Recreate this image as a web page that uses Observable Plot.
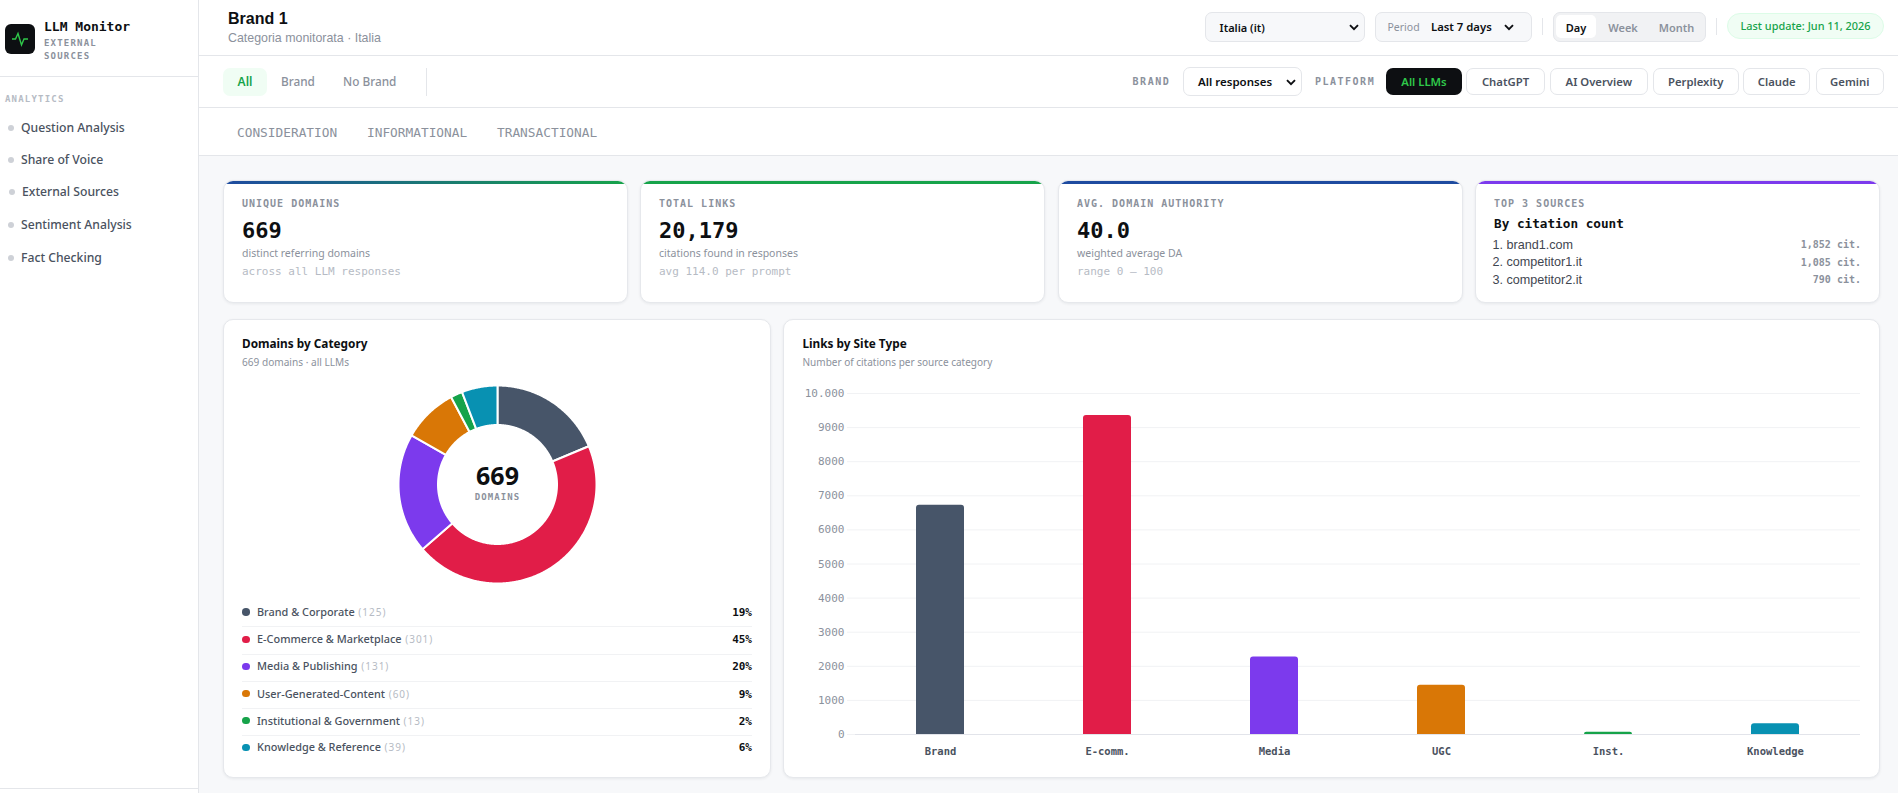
<!DOCTYPE html>
<html><head><meta charset="utf-8">
<script src="https://cdn.jsdelivr.net/npm/d3@7"></script>
<script src="https://cdn.jsdelivr.net/npm/@observablehq/plot@0.6"></script>
<style>
html,body{margin:0;padding:0;width:1898px;height:793px;overflow:hidden;background:#f7f8fa;font-family:"Noto Sans",sans-serif;color:#0d0f12}
#app{position:relative;width:1898px;height:793px;overflow:hidden}
.box{position:absolute;box-sizing:border-box}
.t{position:absolute;white-space:nowrap;line-height:1;transform:translateY(-50%)}
.m{font-family:"DejaVu Sans Mono",monospace}
.l{font-family:"Liberation Sans",sans-serif}
.card{background:#fff;border:1px solid #e6e8ec;border-radius:10px;box-shadow:0 1px 3px rgba(16,24,40,.07);overflow:hidden}
svg{position:absolute;background:transparent;overflow:visible}
</style></head><body><div id="app"></div>
<script>
// ---- data ----
const categories=["Brand & Corporate","E-Commerce & Marketplace","Media & Publishing","User-Generated-Content","Institutional & Government","Knowledge & Reference"];
const domainCounts=[125,301,131,60,13,39];
const domainShares=["19%","45%","20%","9%","2%","6%"];
const siteLabels=["Brand","E-comm.","Media","UGC","Inst.","Knowledge"];
const linkValues=[6725,9355,2275,1445,65,314];
const yTicks=[0,1000,2000,3000,4000,5000,6000,7000,8000,9000,10000];
const yTickLabels=["0","1000","2000","3000","4000","5000","6000","7000","8000","9000","10.000"];
const palette=["#475569","#e11d48","#7c3aed","#d97706","#16a34a","#0891b2"];
const navItems=["Question Analysis","Share of Voice","External Sources","Sentiment Analysis","Fact Checking"];
const kpiLabels=["UNIQUE DOMAINS","TOTAL LINKS","AVG. DOMAIN AUTHORITY"];
const kpiValues=["669","20,179","40.0"];
const kpiSubs=["distinct referring domains","citations found in responses","weighted average DA"];
const kpiNotes=["across all LLM responses","avg 114.0 per prompt","range 0 – 100"];
const topSources=["1. brand1.com","2. competitor1.it","3. competitor2.it"];
const topCitations=["1,852 cit.","1,085 cit.","790 cit."];
const platforms=["All LLMs","ChatGPT","AI Overview","Perplexity","Claude","Gemini"];

// ---- page helpers ----
const app=document.getElementById("app");
function box(x,y,w,h,css="",cls=""){const d=document.createElement("div");d.className="box "+cls;d.style.cssText=`left:${x}px;top:${y}px;width:${w}px;height:${h}px;${css}`;app.appendChild(d);return d}
function T(s,x,y,css="",cls=""){const d=document.createElement("div");d.className="t "+cls;d.textContent=s;d.style.cssText=`left:${x}px;top:${y}px;${css}`;app.appendChild(d);return d}
function TR(s,x,y,css="",cls=""){const d=T(s,0,y,css,cls);d.style.left="auto";d.style.right=(1898-x)+"px";return d}
function TC(s,x,y,css="",cls=""){const d=T(s,x,y,css,cls);d.style.transform="translate(-50%,-50%)";return d}
const chev=(x,y)=>{const s=document.createElementNS("http://www.w3.org/2000/svg","svg");s.setAttribute("width",10);s.setAttribute("height",7);s.setAttribute("viewBox","0 0 10 7");s.style.cssText=`left:${x}px;top:${y}px`;s.innerHTML='<path d="M1 1.2 5 5.2 9 1.2" fill="none" stroke="#0d0f12" stroke-width="1.9"/>';app.appendChild(s)};
const G="#8b919c",G2="#b6bbc4",INK="#4a5260",LINE="#e4e6ea";

// ---- sidebar ----
box(0,0,199,793,`background:#fff;border-right:1px solid ${LINE}`);
box(0,76,198,1,`background:${LINE}`);
box(0,788,198,1,`background:${LINE}`);
box(5,24,30,30,"background:#0d0f12;border-radius:6px");
{const s=document.createElementNS("http://www.w3.org/2000/svg","svg");s.setAttribute("width",18);s.setAttribute("height",18);s.setAttribute("viewBox","0 0 18 18");s.style.cssText="left:11px;top:30px";s.innerHTML='<path d="M1 9H4.5L7 3.5 10.5 15 13 9H17" fill="none" stroke="#2fc84a" stroke-width="1.4"/>';app.appendChild(s)}
T("LLM Monitor",44,26,"font-size:13px;font-weight:700;letter-spacing:0","m");
T("EXTERNAL",44,43,`font-size:9px;font-weight:700;letter-spacing:1.2px;color:${G}`,"m");
T("SOURCES",44,56,`font-size:9px;font-weight:700;letter-spacing:1.2px;color:${G}`,"m");
T("ANALYTICS",5,99,`font-size:9px;font-weight:700;letter-spacing:1.2px;color:${G2}`,"m");
const navY=[127.7,159.7,191.7,224.7,257.7];
navItems.forEach((n,i)=>{const dx=i==2?1:0;
 box(7.5+dx,navY[i]-3,6,6,"background:#ced1d7;border-radius:50%");
 T(n,21+dx,navY[i],`font-size:12.2px;font-weight:500;color:${INK}`)});

// ---- header ----
box(199,0,1699,56,`background:#fff;border-bottom:1px solid ${LINE}`);
T("Brand 1",228,19.3,"font-size:16px;font-weight:700","l");
T("Categoria monitorata · Italia",228,38,`font-size:12.4px;color:${G}`,"l");
box(1205,12,160,29.5,`background:#f7f8fa;border:1px solid ${LINE};border-radius:7px`);
T("Italia (it)",1219.6,27,"font-size:11px;font-weight:600");
chev(1349,24);
box(1375,12,157,29.5,`background:#f7f8fa;border:1px solid ${LINE};border-radius:7px`);
T("Period",1387.5,26.5,`font-size:10.5px;color:${G}`);
T("Last 7 days",1431,27,"font-size:11.3px;font-weight:600");
chev(1504,24);
box(1542,18,1,17,`background:${LINE}`);
box(1553,12,153,29.5,`background:#f1f2f4;border:1px solid ${LINE};border-radius:7px`);
box(1556,15,40,23,"background:#fff;border-radius:5px");
TC("Day",1576,27,"font-size:11px;font-weight:600");
TC("Week",1623,27,`font-size:11px;font-weight:600;color:${G}`);
TC("Month",1676.6,27,`font-size:11px;font-weight:600;color:${G}`);
box(1716,18,1,17,`background:${LINE}`);
box(1727,13,157,26,"background:#f0fdf4;border:1px solid #dcfce7;border-radius:13px");
TC("Last update: Jun 11, 2026",1805.5,25.5,"font-size:10.9px;font-weight:500;color:#16a34a");

// ---- filter bar ----
box(199,56,1699,52,`background:#fff;border-bottom:1px solid ${LINE}`);
box(223,68,44,28,"background:#f0fdf4;border-radius:7px");
TC("All",245,82,"font-size:12px;font-weight:600;color:#16a34a");
T("Brand",281,82,`font-size:11.8px;font-weight:500;color:${G}`);
T("No Brand",343,82,`font-size:11.8px;font-weight:500;color:${G}`);
box(426,68,1,28,`background:${LINE}`);
T("BRAND",1132.6,82,`font-size:10px;font-weight:700;letter-spacing:1.5px;color:${G}`,"m");
box(1183,67,118.5,29,`background:#fff;border:1px solid ${LINE};border-radius:7px`);
T("All responses",1198,82,"font-size:11.5px;font-weight:600");
chev(1286,79);
T("PLATFORM",1315,82,`font-size:10px;font-weight:700;letter-spacing:1.5px;color:${G}`,"m");
const platX=[[1386,1462],[1466,1545],[1550,1647.6],[1652.7,1738.7],[1743,1810.4],[1815.5,1884]];
platforms.forEach((p,i)=>{const [a,b]=platX[i];
 box(a,68,b-a,27,i==0?"background:#0d0f12;border-radius:7px":`background:#fff;border:1px solid ${LINE};border-radius:7px`);
 TC(p,(a+b)/2,82,`font-size:11.3px;font-weight:600;color:${i==0?"#2fc84a":INK}`)});

// ---- tabs ----
box(199,108,1699,48,`background:#fff;border-bottom:1px solid ${LINE}`);
[["CONSIDERATION",237],["INFORMATIONAL",367],["TRANSACTIONAL",497]].forEach(([s,x])=>T(s,x,132.7,`font-size:12.8px;color:${G}`,"m"));

// ---- KPI cards ----
const cardX=[223,640,1058,1475], cardTop=["linear-gradient(90deg,#1e4ba0,#16a34a)","#16a34a","#1e4ba0","#7c3aed"];
cardX.forEach((x,i)=>{const c=box(x,180,404.5,122.5,"","card");
 const b=document.createElement("div");b.style.cssText=`height:3px;background:${cardTop[i]}`;c.appendChild(b)});
const kx=[242,659,1077];
kpiLabels.forEach((s,i)=>{const x=kx[i];
 T(s,x,204,`font-size:10px;font-weight:700;letter-spacing:1px;color:${G}`,"m");
 T(kpiValues[i],x,230.5,"font-size:22px;font-weight:700","m");
 T(kpiSubs[i],x,253,`font-size:10.5px;color:${G}`);
 T(kpiNotes[i],x,270.5,`font-size:11px;color:${G2}`,"m")});
T("TOP 3 SOURCES",1494,204,`font-size:10px;font-weight:700;letter-spacing:1px;color:${G}`,"m");
T("By citation count",1494,224,"font-size:12.7px;font-weight:700","m");
topSources.forEach((s,i)=>{const y=[244.5,262,279.5][i];
 T(s,1492.5,y,"font-size:12.6px;color:#3f4650","l");
 TR(topCitations[i],1861,y+.5,`font-size:10px;font-weight:700;color:${G}`,"m")});

// ---- panels ----
box(223,319,547.5,459,"","card");
box(783,319,1096.5,459,"","card");
T("Domains by Category",242,344,"font-size:11.8px;font-weight:700");
T("669 domains · all LLMs",242,362,`font-size:10.1px;color:${G}`);
T("Links by Site Type",802.5,344,"font-size:11.8px;font-weight:700");
T("Number of citations per source category",802.5,362,`font-size:10px;color:${G}`);

// ---- donut (Plot.geo over an identity projection) ----
const OUTER=99, INNER=59.5;
const arcs=d3.pie().sort(null)(domainCounts);
const ring=(a0,a1)=>{const n=Math.ceil((a1-a0)/(Math.PI/360));const pts=[];
 for(let k=0;k<=n;k++){const a=a0+(a1-a0)*k/n;pts.push([Math.sin(a)*OUTER,-Math.cos(a)*OUTER])}
 for(let k=n;k>=0;k--){const a=a0+(a1-a0)*k/n;pts.push([Math.sin(a)*INNER,-Math.cos(a)*INNER])}
 pts.push(pts[0]);return pts};
const slices=arcs.map((d,i)=>({type:"Feature",properties:{category:categories[i]},geometry:{type:"Polygon",coordinates:[ring(d.startAngle,d.endAngle)]}}));
const donut=Plot.plot({width:300,height:220,margin:0,
 projection:d3.geoIdentity().translate([150,110]),
 color:{domain:categories,range:palette},
 marks:[
  Plot.geo(slices,{fill:d=>d.properties.category,stroke:"#fff",strokeWidth:2}),
  Plot.text(["669"],{frameAnchor:"middle",dy:-7.3,fontSize:25,fontWeight:700,fontFamily:"Noto Sans",fill:"#0d0f12"}),
  Plot.text(["DOMAINS"],{frameAnchor:"middle",dy:13,fontSize:9,fontWeight:700,fontFamily:"DejaVu Sans Mono",fill:G})
 ]});
donut.querySelectorAll("text").forEach(t=>{if(t.textContent==="DOMAINS")t.style.letterSpacing="1.1px"});
donut.style.left="346.5px";donut.style.top="374px";app.appendChild(donut);

// ---- legend ----
const legY=[612,639.3,666.3,693.5,720.5,747.3];
categories.forEach((c,i)=>{
 box(242,legY[i]-3.75,7.5,7.5,`background:${palette[i]};border-radius:50%`);
 const d=T(c,257,legY[i],`font-size:10.9px;font-weight:500;color:${INK}`);
 const sp=document.createElement("span");sp.textContent=` (${domainCounts[i]})`;sp.style.cssText=`color:${G2};font-weight:400;font-size:10px;letter-spacing:1px`;d.appendChild(sp);
 TR(domainShares[i],752,legY[i],"font-size:11px;font-weight:700","m");
 if(i<5)box(242,legY[i]+14.3,510,1,"background:#f1f2f4");
});

// ---- bar chart ----
const links=siteLabels.map((label,i)=>({label,value:linkValues[i]}));
const tickText=new Map(yTicks.map((d,i)=>[d,yTickLabels[i]]));
const bars=Plot.plot({width:1085,height:390,marginLeft:57,marginRight:15,marginTop:18,marginBottom:31,
 x:{domain:siteLabels,range:[65.5,1069.5],paddingInner:.7135,paddingOuter:.35675,axis:null},
 y:{domain:[0,10000],axis:null},
 color:{domain:siteLabels,range:palette},
 marks:[
  Plot.ruleY(yTicks,{stroke:"#f1f2f4",strokeWidth:1}),
  Plot.barY(links,{x:"label",y:"value",fill:"label",ry1:3}),
  Plot.ruleY([0],{stroke:"#e2e4ea",strokeWidth:1.2,insetLeft:8}),
  Plot.axisY(yTicks,{anchor:"left",tickSize:0,tickPadding:3,label:null,tickFormat:d=>tickText.get(d),fontFamily:"DejaVu Sans Mono",fontSize:11,color:G}),
  Plot.axisX({anchor:"bottom",tickSize:0,tickPadding:13,label:null,fontFamily:"DejaVu Sans Mono",fontSize:10.5,fontWeight:700,color:INK})
 ]});
bars.style.left="790px";bars.style.top="375px";app.appendChild(bars);
</script></body></html>
